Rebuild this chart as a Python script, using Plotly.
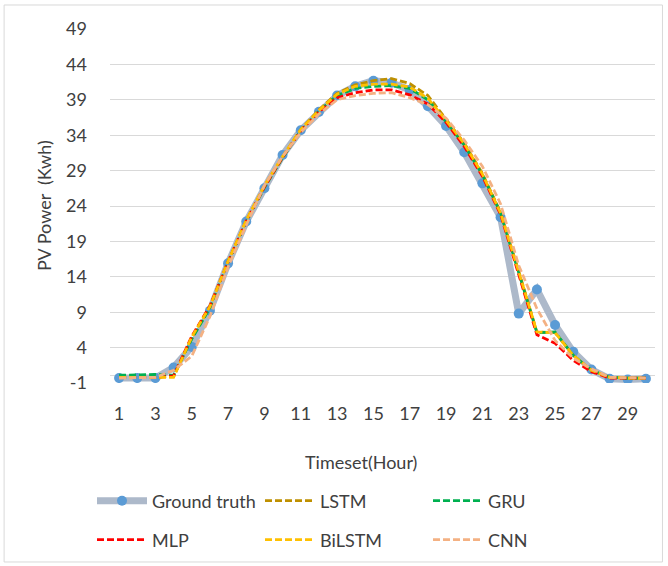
import plotly.graph_objects as go

# Hourly PV power: measured values and model forecasts (kWh)
hours = list(range(1, 31))

ground_truth = [-0.3, -0.3, -0.3, 1.2, 4.1, 9.2, 15.9, 21.8, 26.5, 31.2,
                34.7, 37.3, 39.6, 40.9, 41.7, 41.4, 40.4, 38.1, 35.3, 31.6,
                27.2, 22.4, 8.8, 12.2, 7.2, 3.4, 0.9, -0.4, -0.5, -0.4]
lstm = [-0.2, -0.1, -0.1, -0.1, 5.4, 9.8, 16.2, 21.9, 26.8, 30.9,
        34.8, 37.6, 39.9, 41.1, 41.7, 42.0, 41.3, 39.6, 36.2, 32.9,
        28.6, 23.1, 14.8, 6.2, 6.1, 2.9, 0.8, -0.2, -0.3, -0.3]
gru = [0.1, 0.2, 0.2, 0.1, 5.2, 9.6, 16.0, 21.7, 26.6, 30.8,
       34.6, 37.4, 39.6, 40.6, 40.9, 41.0, 40.6, 39.0, 35.9, 32.6,
       28.4, 23.0, 14.6, 6.1, 6.2, 2.9, 0.8, -0.2, -0.3, -0.3]
mlp = [-0.2, -0.2, -0.2, 0.0, 5.6, 9.9, 16.1, 21.9, 26.7, 30.9,
       34.6, 37.3, 39.3, 40.0, 40.4, 40.4, 39.7, 38.4, 35.8, 32.4,
       28.2, 22.8, 14.4, 5.8, 4.6, 2.2, 0.6, -0.3, -0.3, -0.3]
bilstm = [-0.2, -0.2, -0.2, -0.2, 5.5, 9.8, 16.2, 22.0, 26.9, 31.0,
          34.8, 37.5, 39.8, 40.9, 41.2, 41.2, 40.8, 39.2, 36.1, 32.8,
          28.5, 23.0, 14.7, 6.2, 6.1, 2.9, 0.8, -0.2, -0.3, -0.3]
cnn = [-0.3, -0.3, -0.2, 0.8, 2.8, 8.4, 15.4, 21.3, 26.9, 31.0,
       34.4, 37.0, 39.0, 39.6, 39.9, 40.0, 39.3, 38.3, 36.4, 33.3,
       29.6, 24.3, 15.6, 9.5, 5.0, 2.5, 1.0, -0.2, -0.3, -0.3]

x_ticks = list(range(1, 30, 2))
y_ticks = list(range(-1, 50, 5))
y_tick_text = [str(v) for v in y_ticks]

FONT = "Lato, 'Open Sans', sans-serif"
TEXT = "#404040"
GRID = "#d9d9d9"
DASH = "7px,3px"
W, H = 668, 566

fig = go.Figure()

fig.add_trace(go.Scatter(
    x=hours, y=ground_truth, name="Ground truth", mode="lines+markers",
    line=dict(color="#adb9ca", width=7),
    marker=dict(color="#5b9bd5", size=10),
    legend="legend",
))

forecasts = [
    ("LSTM", lstm, "#bf9000", "legend"),
    ("GRU", gru, "#00b050", "legend"),
    ("MLP", mlp, "#ff0000", "legend2"),
    ("BiLSTM", bilstm, "#ffc000", "legend2"),
    ("CNN", cnn, "#f4b183", "legend2"),
]
for name, values, color, leg in forecasts:
    fig.add_trace(go.Scatter(
        x=hours, y=values, name=name, mode="lines",
        line=dict(color=color, width=2.75, dash=DASH),
        legend=leg,
    ))

# each legend row: 50px symbol + gaps + text slot, 168px per entry
legend_style = dict(
    orientation="h", xref="container", yref="container",
    xanchor="left", yanchor="middle",
    entrywidth=103, entrywidthmode="pixels", itemwidth=50,
    font=dict(family=FONT, size=18, color=TEXT),
    bgcolor="rgba(0,0,0,0)", traceorder="normal",
)

fig.update_layout(
    width=W, height=H,
    margin=dict(l=110, r=12.5, t=29, b=183, autoexpand=False),
    paper_bgcolor="white", plot_bgcolor="white",
    font=dict(family=FONT, size=18, color=TEXT),
    showlegend=True,
    legend=dict(x=92 / W, y=1 - 501 / H, **legend_style),
    legend2=dict(x=92 / W, y=1 - 540 / H, **legend_style),
    xaxis=dict(
        range=[0.5, 30.5], tickmode="array", tickvals=x_ticks,
        showgrid=False, zeroline=False, showline=False, ticks="",
        ticklabelstandoff=18,
        tickfont=dict(family=FONT, size=18, color=TEXT),
    ),
    yaxis=dict(
        range=[-1, 49], tickmode="array", tickvals=y_ticks,
        ticktext=y_tick_text,
        showgrid=True, gridcolor=GRID, gridwidth=1,
        zeroline=True, zerolinecolor=GRID, zerolinewidth=1,
        showline=False, ticks="", ticklabelstandoff=22,
        tickfont=dict(family=FONT, size=18, color=TEXT),
    ),
    shapes=[dict(
        type="rect", xref="paper", yref="paper",
        x0=-0.1943, x1=1.0137, y0=-0.5056, y1=1.0678,
        line=dict(color="#d9d9d9", width=1), layer="below",
    )],
    annotations=[
        dict(text="PV Power  (Kwh)", xref="paper", yref="paper",
             x=(44 - 110) / 545.5, y=0.5, textangle=-90, showarrow=False,
             xanchor="center", yanchor="middle",
             font=dict(family=FONT, size=18, color=TEXT)),
        dict(text="Timeset(Hour)", xref="paper", yref="paper",
             x=(361 - 110) / 545.5, y=(383 - 462) / 354, showarrow=False,
             xanchor="center", yanchor="middle",
             font=dict(family=FONT, size=18, color=TEXT)),
    ],
)

fig.write_html("out.html")
